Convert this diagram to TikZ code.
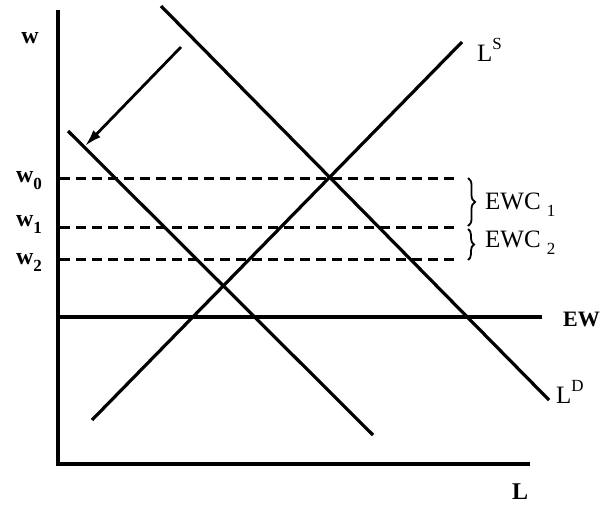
\documentclass[tikz,border=0pt]{standalone}
\usepackage{fontspec}
\setmainfont{Liberation Serif}
\usepackage{tikz}
\usetikzlibrary{arrows.meta, decorations.pathreplacing}
\newcommand{\lowsub}[1]{\raisebox{-7pt}{\fontsize{17}{19}\selectfont #1}}
\newcommand{\highsup}[1]{\raisebox{12pt}{\fontsize{17}{19}\selectfont #1}}

\begin{document}
\begin{tikzpicture}[x=1pt, y=-1pt, crv/.style={line width=3.2pt}, lvl/.style={line width=3pt, dash pattern=on 10pt off 6pt}, lbl/.style={font=\fontsize{25}{28}\selectfont, inner sep=0pt}, blbl/.style={lbl, font=\fontsize{24}{28}\selectfont\bfseries}]
\useasboundingbox (0,0) rectangle (602,506);
% axes
\coordinate (ytop) at (58,10); \coordinate (orig) at (58,464); \coordinate (xend) at (530,464);
\draw[crv] (ytop) -- (orig) -- (xend);
\node[blbl] (wax) at (30,38) {w};
\node[blbl] (lax) at (520,492) {L};
% wage levels
\coordinate (w0a) at (60,178); \coordinate (w0b) at (458,178);
\coordinate (w1a) at (60,227); \coordinate (w1b) at (458,227);
\coordinate (w2a) at (60,259); \coordinate (w2b) at (458,259);
\draw[lvl] (w0a) -- (w0b); \draw[lvl] (w1a) -- (w1b); \draw[lvl] (w2a) -- (w2b);
\node[blbl] (w0) at (29,181) {w\lowsub{0}};
\node[blbl] (w1) at (29,224) {w\lowsub{1}};
\node[blbl] (w2) at (29,262) {w\lowsub{2}};
% efficiency wage
\coordinate (ewa) at (58,317); \coordinate (ewb) at (542,317);
\draw[crv] (ewa) -- (ewb);
\node[blbl, anchor=east, font=\fontsize{22}{26}\selectfont\bfseries] (ew) at (600,319) {EW};
% supply and demand
\coordinate (lsA) at (92,420); \coordinate (lsB) at (462,42);
\draw[crv] (lsA) -- (lsB);
\node[lbl, anchor=west] (ls) at (477,50) {L\highsup{S}};
\coordinate (ldA) at (161,6); \coordinate (ldB) at (549,400);
\draw[crv] (ldA) -- (ldB);
\node[lbl, anchor=west] (ld) at (556,392) {L\highsup{D}};
\coordinate (ldnA) at (68,131); \coordinate (ldnB) at (373,435);
\draw[crv] (ldnA) -- (ldnB);
% shift
\coordinate (shA) at (181,47); \coordinate (shB) at (85,146);
\draw[line width=2.8pt, -{Latex[length=17pt, width=10pt]}] (shA) -- (shB);
% gaps
\draw[decorate, decoration={brace, amplitude=7pt}, line width=1.8pt] (468,178) -- (468,226);
\draw[decorate, decoration={brace, amplitude=6pt}, line width=1.8pt] (468,229) -- (468,260);
\node[lbl, anchor=west] (ewc1) at (485,205) {EWC \lowsub{1}};
\node[lbl, anchor=west] (ewc2) at (485,243) {EWC \lowsub{2}};
\end{tikzpicture}
\end{document}
